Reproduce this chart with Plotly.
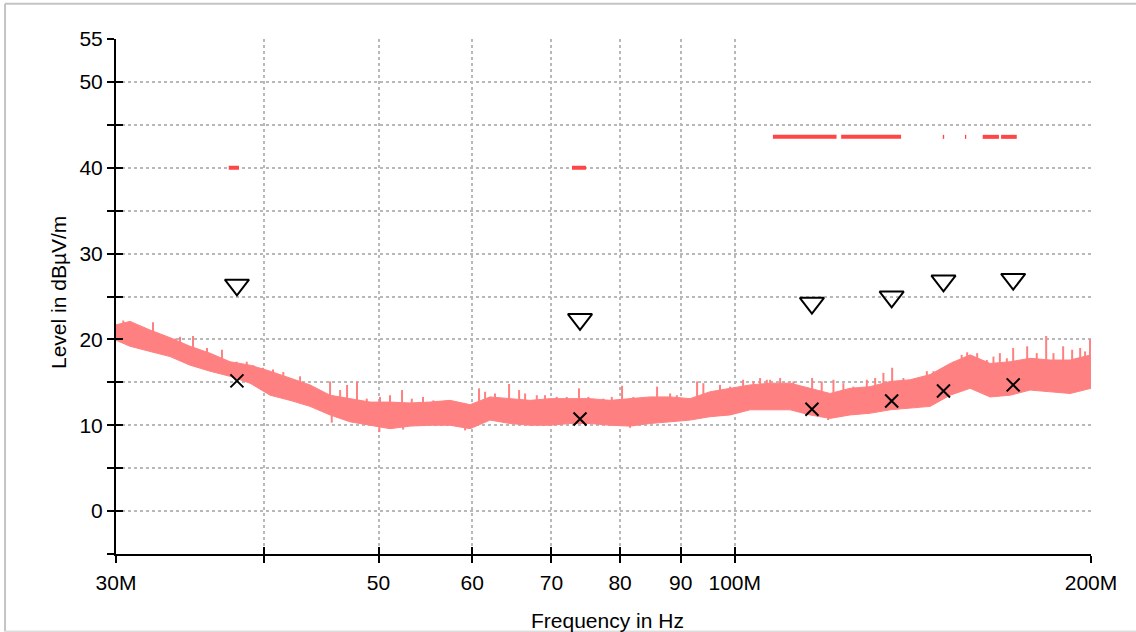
import numpy as np
import plotly.graph_objects as go

# ---- data (frequencies in MHz, levels in dBuV/m) ----
env_freq = [30.00, 30.83, 32.05, 33.33, 34.65, 36.02, 37.45, 38.94, 40.49, 42.09,
            43.76, 45.50, 47.30, 49.18, 51.13, 53.16, 55.27, 57.47, 59.75, 62.12,
            64.58, 67.15, 69.81, 72.58, 75.46, 78.46, 81.57, 84.81, 88.18, 91.67,
            95.31, 99.10, 103.03, 107.12, 111.37, 115.79, 120.39, 125.16, 130.13, 135.30,
            140.67, 146.25, 152.06, 158.09, 164.36, 170.89, 177.67, 184.72, 192.05, 200.00]
env_upper = [21.7, 22.1, 21.1, 20.2, 19.2, 18.4, 17.4, 17.0, 16.3, 15.5,
             14.7, 13.5, 13.1, 12.7, 12.7, 12.6, 12.7, 12.9, 12.4, 13.3,
             13.1, 12.9, 13.1, 13.1, 13.1, 12.9, 13.1, 13.3, 13.3, 13.1,
             13.9, 14.3, 14.7, 14.9, 14.9, 14.3, 13.7, 14.3, 14.5, 15.1,
             15.3, 15.9, 17.2, 18.2, 17.2, 17.4, 17.8, 17.6, 17.6, 18.2]
env_lower = [19.9, 19.2, 18.6, 18.0, 17.0, 16.3, 15.7, 14.9, 13.5, 12.9,
             12.2, 11.2, 10.4, 10.0, 9.6, 9.9, 10.0, 10.0, 9.6, 10.6,
             10.2, 10.0, 10.0, 10.2, 10.2, 10.0, 9.9, 10.2, 10.4, 10.6,
             11.0, 11.2, 11.8, 11.8, 11.8, 11.2, 10.8, 11.2, 11.4, 11.8,
             12.0, 12.2, 13.5, 14.3, 13.3, 13.5, 14.1, 13.9, 13.7, 14.3]

spike_freq = [30.43, 30.83, 32.24, 32.89, 33.66, 33.98, 34.85, 35.21, 35.81, 36.87,
              37.94, 38.69, 39.19, 39.94, 40.72, 41.54, 42.09, 42.92, 44.04, 45.50,
              46.40, 47.03, 47.95, 48.87, 50.14, 51.13, 52.34, 53.34, 54.52, 55.63,
              56.72, 60.80, 61.52, 62.72, 64.46, 65.73, 66.50, 68.03, 69.13, 70.72,
              72.11, 73.85, 75.21, 77.44, 78.72, 80.31, 82.10, 85.97, 88.18, 89.34,
              92.93, 94.07, 97.17, 99.10, 101.63, 103.70, 105.05, 106.43, 107.12, 109.23,
              112.09, 116.24, 118.43, 121.17, 123.53, 125.97, 129.30, 131.41, 133.54, 135.83,
              138.84, 142.51, 145.32, 147.20, 149.58, 153.05, 155.51, 157.17, 160.26, 163.31,
              165.43, 167.5, 169.80, 171.89, 176.64, 179.96, 183.29, 185.92, 189.45, 192.8,
              195.83, 197.7, 199.6]
spike_top = [22.2, 22.1, 22.0, 20.5, 20.1, 20.3, 20.4, 18.5, 19.0, 18.8,
             17.4, 17.4, 17.0, 16.7, 16.5, 16.2, 15.4, 15.7, 14.1, 15.1,
             14.1, 14.7, 15.1, 13.1, 13.3, 13.5, 14.1, 13.1, 13.3, 12.9,
             12.7, 14.3, 13.9, 13.7, 14.8, 14.1, 13.7, 13.5, 13.5, 13.3,
             13.3, 14.3, 13.3, 13.1, 13.3, 14.6, 13.3, 14.5, 13.7, 13.5,
             15.1, 14.9, 14.7, 14.5, 15.3, 15.1, 15.5, 15.3, 15.3, 15.5,
             15.1, 15.5, 15.1, 15.3, 14.9, 14.5, 15.3, 15.5, 16.1, 16.7,
             15.5, 15.5, 16.3, 16.3, 16.5, 17.4, 18.2, 18.5, 18.4, 17.6,
             18.0, 18.4, 17.8, 19.0, 19.2, 18.4, 20.4, 18.4, 19.2, 18.8,
             19.0, 18.6, 20.0]

dip_freq = [45.65, 50.08, 52.45, 59.17, 81.57, 119.92]
dip_bottom = [10.3, 9.2, 9.5, 9.4, 9.7, 10.6]

peak_freq = [37.96, 74.0, 116.2, 135.7, 150.1, 171.9]
peak_level = [26.35, 22.34, 24.23, 24.96, 26.83, 27.02]
qp_level = [15.17, 10.73, 11.86, 12.83, 14.0, 14.70]

limit_start = [37.36, 72.85, 107.7, 123.0, 149.9, 156.5, 162.0, 167.9]
limit_end = [38.11, 74.87, 121.9, 138.2, 150.3, 156.9, 167.2, 173.1]
limit_level = [40.0, 40.0, 43.6, 43.6, 43.6, 43.6, 43.6, 43.6]

x_tick_vals = [30, 40, 50, 60, 70, 80, 90, 100, 200]
x_tick_text = ["30M", "", "50", "60", "70", "80", "90", "100M", "200M"]
y_tick_vals = [-5, 0, 5, 10, 15, 20, 25, 30, 35, 40, 45, 50, 55]
y_tick_text = ["", "0", "", "10", "", "20", "", "30", "", "40", "", "50", "55"]

# ---- figure ----
MHZ = 1e6
BAND = "#ff8080"
FONT = "Liberation Sans, Arial, sans-serif"

fig = go.Figure()

ef = np.array(env_freq) * MHZ
fig.add_trace(go.Scatter(x=ef, y=env_lower, mode="lines", line=dict(color=BAND, width=1),
                         hoverinfo="skip", showlegend=False))
fig.add_trace(go.Scatter(x=ef, y=env_upper, mode="lines", line=dict(color=BAND, width=1),
                         fill="tonexty", fillcolor=BAND, hoverinfo="skip", showlegend=False))

logf = np.log10(env_freq)
sx, sy = [], []
for f, t in zip(spike_freq, spike_top):
    base = float(np.interp(np.log10(f), logf, env_upper)) - 0.8
    sx += [f * MHZ, f * MHZ, None]
    sy += [base, t, None]
for f, b in zip(dip_freq, dip_bottom):
    base = float(np.interp(np.log10(f), logf, env_lower)) + 0.8
    sx += [f * MHZ, f * MHZ, None]
    sy += [base, b, None]
fig.add_trace(go.Scatter(x=sx, y=sy, mode="lines", line=dict(color=BAND, width=2),
                         hoverinfo="skip", showlegend=False))

lx, ly = [], []
for a, b, lv in zip(limit_start, limit_end, limit_level):
    lx += [a * MHZ, b * MHZ, None]
    ly += [lv, lv, None]
fig.add_trace(go.Scatter(x=lx, y=ly, mode="lines", line=dict(color="#ff4545", width=4),
                         hoverinfo="skip", showlegend=False))

pf = np.array(peak_freq) * MHZ
fig.add_trace(go.Scatter(x=pf, y=peak_level, mode="markers",
                         marker=dict(symbol="triangle-down-open", size=21,
                                     color="black", line=dict(color="black", width=2)),
                         hoverinfo="skip", showlegend=False))
fig.add_trace(go.Scatter(x=pf, y=qp_level, mode="markers",
                         marker=dict(symbol="x-thin-open", size=13,
                                     color="black", line=dict(color="black", width=2)),
                         hoverinfo="skip", showlegend=False))

# invisible trace for overlay axes (inner half of the crossing ticks)
fig.add_trace(go.Scatter(x=[50 * MHZ], y=[20], xaxis="x2", yaxis="y2", mode="markers",
                         marker=dict(opacity=0), hoverinfo="skip", showlegend=False))

xr = [np.log10(30 * MHZ), np.log10(200 * MHZ)]
yr = [-5, 55]
grid = dict(showgrid=True, gridcolor="#b8b8b8", gridwidth=1.5, griddash="dot")

fig.update_layout(
    width=1136, height=632,
    margin=dict(l=116, r=45, t=39, b=78),
    paper_bgcolor="white", plot_bgcolor="white",
    font=dict(family=FONT, size=21, color="black"),
    hovermode=False,
    xaxis=dict(type="log", range=xr, tickmode="array",
               tickvals=[v * MHZ for v in x_tick_vals], ticktext=x_tick_text,
               ticks="outside", ticklen=7, tickwidth=2, tickcolor="black",
               showline=True, linecolor="black", linewidth=2, zeroline=False,
               tickfont=dict(family=FONT, size=21), ticklabelstandoff=2, **grid),
    yaxis=dict(range=yr, tickmode="array", tickvals=y_tick_vals, ticktext=y_tick_text,
               ticks="outside", ticklen=7, tickwidth=2, tickcolor="black",
               showline=True, linecolor="black", linewidth=2, zeroline=False,
               tickfont=dict(family=FONT, size=21), **grid),
    xaxis2=dict(type="log", range=xr, overlaying="x", anchor="y", side="bottom",
                tickmode="array", tickvals=[v * MHZ for v in x_tick_vals],
                ticks="inside", ticklen=7, tickwidth=2, tickcolor="black",
                showticklabels=False, showgrid=False, showline=False, zeroline=False),
    yaxis2=dict(range=yr, overlaying="y", anchor="x", side="left",
                tickmode="array", tickvals=y_tick_vals,
                ticks="inside", ticklen=7, tickwidth=2, tickcolor="black",
                showticklabels=False, showgrid=False, showline=False, zeroline=False),
    annotations=[
        dict(text="Level in dBµV/m", xref="paper", yref="paper", x=-0.0595, y=0.5087,
             textangle=-90, showarrow=False, xanchor="center", yanchor="middle",
             font=dict(family=FONT, size=21, color="black")),
        dict(text="Frequency in Hz", xref="paper", yref="paper", x=0.5046, y=-0.129,
             showarrow=False, xanchor="center", yanchor="middle",
             font=dict(family=FONT, size=21, color="black")),
    ],
    shapes=[
        dict(type="line", xref="paper", yref="paper", x0=-0.1138, x1=1.05, y0=1.0686, y1=1.0686,
             line=dict(color="#c4c4c4", width=2)),
        dict(type="line", xref="paper", yref="paper", x0=-0.1138, x1=-0.1138, y0=-0.1505, y1=1.0686,
             line=dict(color="#c4c4c4", width=2)),
        dict(type="line", xref="paper", yref="paper", x0=-0.1138, x1=1.05, y0=-0.1505, y1=-0.1505,
             line=dict(color="#dddddd", width=2)),
    ],
)

fig.write_html("out.html", config={"displayModeBar": False},
               post_script="document.body.style.margin='0';document.body.style.overflow='hidden';")
